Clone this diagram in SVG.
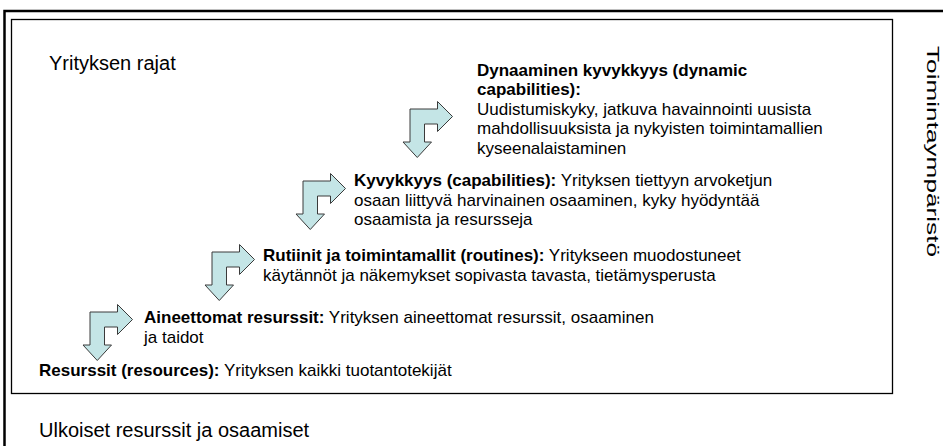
<svg xmlns="http://www.w3.org/2000/svg" width="943" height="446" viewBox="0 0 943 446">
  <style>
    text { font-family: "Liberation Sans", Arial, sans-serif; fill: #000; }
    .lbl { font-size: 20px; }
    .side { font-size: 17px; }
    .body { font-size: 17px; }
    .b { font-weight: bold; }
    .frame { fill: none; stroke: #000; stroke-width: 2.5; }
    .box { fill: #fff; stroke: #000; stroke-width: 1.3; }
    .step { fill: #C4E5E6; stroke: #3a3a3a; stroke-width: 1; stroke-linejoin: miter; }
  </style>
  <defs>
    <!-- bent arrow: right-pointing head on the top arm, down-pointing head on the shaft -->
    <path id="bent" d="M0,0 H27.5 V-7.5 L42.5,7.5 L27.5,22.5 V15 H14.5 V33 H21.5 L7.25,48.5 L-7,33 H0 Z"/>
  </defs>

  <rect width="943" height="446" fill="#fff"/>

  <!-- operating environment frame (open to the right and bottom) -->
  <g id="environment">
    <path class="frame" d="M4.5,446 V11 H943"/>
    <text class="side" transform="translate(927,46) rotate(90)" textLength="211" lengthAdjust="spacingAndGlyphs">Toimintaympäristö</text>
    <text class="lbl" x="39" y="437">Ulkoiset resurssit ja osaamiset</text>
  </g>

  <!-- company boundary -->
  <g id="company">
    <rect class="box" x="11.5" y="19.5" width="881" height="374"/>
    <text class="lbl" x="49" y="70">Yrityksen rajat</text>
  </g>

  <g id="resources">
    <text class="body" x="39" y="376"><tspan class="b">Resurssit (resources):</tspan> Yrityksen kaikki tuotantotekijät</text>
  </g>

  <g id="intangible">
    <text class="body" x="144" y="323"><tspan class="b">Aineettomat resurssit:</tspan> Yrityksen aineettomat resurssit, osaaminen</text>
    <text class="body" x="144" y="343">ja taidot</text>
  </g>

  <g id="routines">
    <text class="body" x="263" y="261"><tspan class="b">Rutiinit ja toimintamallit (routines):</tspan> Yritykseen muodostuneet</text>
    <text class="body" x="263" y="281">käytännöt ja näkemykset sopivasta tavasta, tietämysperusta</text>
  </g>

  <g id="capabilities">
    <text class="body" x="354" y="186"><tspan class="b">Kyvykkyys (capabilities):</tspan> Yrityksen tiettyyn arvoketjun</text>
    <text class="body" x="354" y="205.5">osaan liittyvä harvinainen osaaminen, kyky hyödyntää</text>
    <text class="body" x="354" y="225">osaamista ja resursseja</text>
  </g>

  <g id="dynamic">
    <text class="body b" x="477" y="75.5">Dynaaminen kyvykkyys (dynamic</text>
    <text class="body b" x="477" y="95">capabilities):</text>
    <text class="body" x="477" y="114.5">Uudistumiskyky, jatkuva havainnointi uusista</text>
    <text class="body" x="477" y="134">mahdollisuuksista ja nykyisten toimintamallien</text>
    <text class="body" x="477" y="153.5">kyseenalaistaminen</text>
  </g>

  <!-- step arrows between the levels -->
  <g id="arrows">
    <use href="#bent" class="step" x="90" y="312"/>
    <use href="#bent" class="step" x="212" y="252"/>
    <use href="#bent" class="step" x="303" y="181"/>
    <use href="#bent" class="step" x="410" y="109"/>
  </g>
</svg>
